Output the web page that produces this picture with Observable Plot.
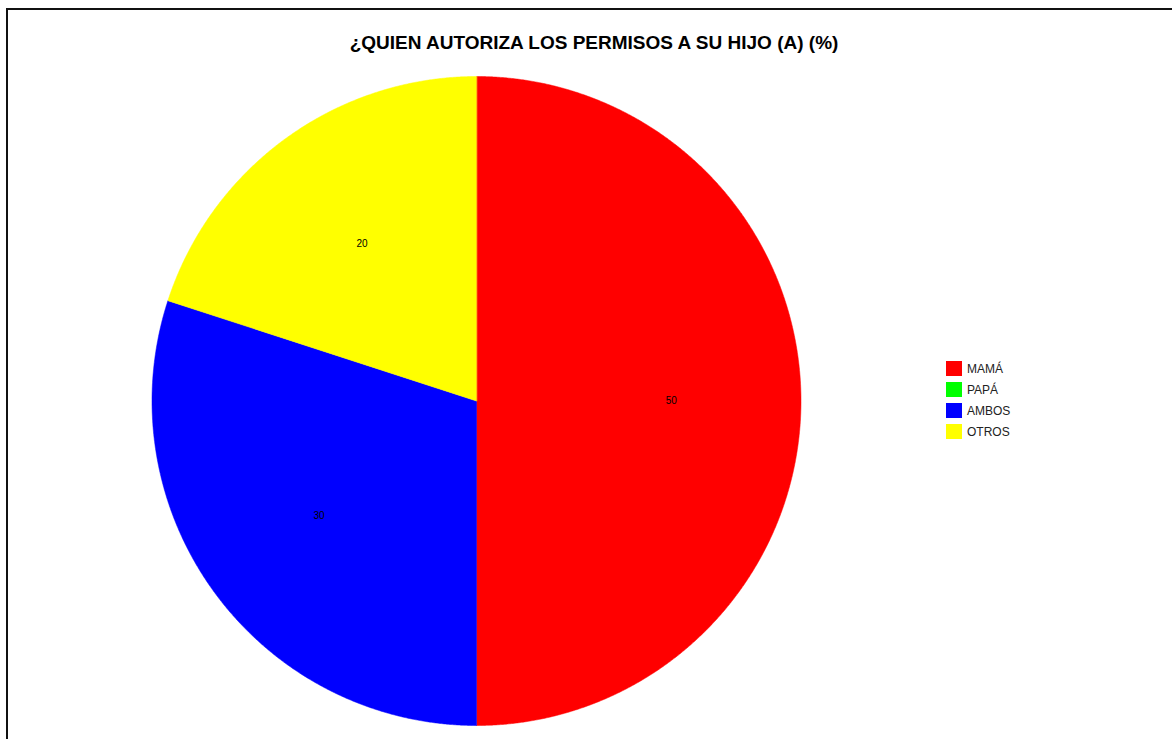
<!DOCTYPE html>
<html>
<head>
<meta charset="utf-8">
<script src="https://cdn.jsdelivr.net/npm/d3@7"></script>
<script src="https://cdn.jsdelivr.net/npm/@observablehq/plot@0.6"></script>
<style>
  html, body { margin: 0; padding: 0; background: #fff; }
  #wrap { position: relative; width: 1172px; height: 739px; overflow: hidden; font-family: Arial, "Liberation Sans", sans-serif; }
  #border { position: absolute; left: 6px; top: 8px; width: 1200px; height: 800px; border-left: 2px solid #111; border-top: 2px solid #111; box-sizing: border-box; }
  #chart { position: absolute; left: 0; top: 0; }
  #title { position: absolute; left: 0; width: 1188px; top: 32px; text-align: center; font-weight: bold; font-size: 19px; color: #000; }
  #legend { position: absolute; left: 946px; top: 358px; font-size: 12px; color: #222; }
  .row { display: flex; align-items: center; height: 21px; }
  .sw { width: 16px; height: 15px; margin-right: 5px; }
</style>
</head>
<body>
<div id="wrap">
  <div id="border"></div>
  <div id="chart"></div>
  <div id="title"></div>
  <div id="legend"></div>
</div>
<script>
const titleText = "¿QUIEN AUTORIZA LOS PERMISOS A SU HIJO (A) (%)";
const categories = ["MAMÁ", "PAPÁ", "AMBOS", "OTROS"];
const values = [50, 0, 30, 20];
const colors = ["#FF0000", "#00FF00", "#0000FF", "#FFFF00"];

const data = categories.map((c, i) => ({category: c, value: values[i]}));
const arcs = d3.pie().sort(null).value(d => d.value)(data);

// polygon vertices for each slice (unit circle, angle clockwise from top)
const pts = [];
for (const a of arcs) {
  if (a.endAngle - a.startAngle <= 0) continue;
  const cat = a.data.category;
  pts.push({category: cat, x: 0, y: 0});
  const n = Math.max(2, Math.ceil((a.endAngle - a.startAngle) / (Math.PI / 720)));
  for (let k = 0; k <= n; k++) {
    const t = a.startAngle + (a.endAngle - a.startAngle) * k / n;
    pts.push({category: cat, x: Math.sin(t), y: Math.cos(t)});
  }
}
const labels = arcs.filter(a => a.data.value > 0).map(a => {
  const m = (a.startAngle + a.endAngle) / 2;
  return {category: a.data.category, text: String(a.data.value), x: 0.6 * Math.sin(m), y: 0.6 * Math.cos(m)};
});

const cx = 476, cy = 400.5, r = 324.5;
const chart = Plot.plot({
  width: 1172,
  height: 739,
  margin: 0,
  x: {domain: [-1, 1], range: [cx - r, cx + r], axis: null},
  y: {domain: [-1, 1], range: [cy + r, cy - r], axis: null},
  color: {domain: categories, range: colors},
  marks: [
    Plot.line(pts, {x: "x", y: "y", z: "category", fill: "category", stroke: "category", strokeWidth: 0.5, curve: "linear-closed"}),
    Plot.text(labels, {x: "x", y: "y", text: "text", fill: "#000", fontSize: 10, fontFamily: "Arial, 'Liberation Sans', sans-serif"})
  ]
});
document.getElementById("chart").appendChild(chart);
document.getElementById("title").textContent = titleText;

const leg = document.getElementById("legend");
categories.forEach((c, i) => {
  const row = document.createElement("div");
  row.className = "row";
  const sw = document.createElement("div");
  sw.className = "sw";
  sw.style.background = colors[i];
  const lab = document.createElement("span");
  lab.textContent = c;
  row.appendChild(sw);
  row.appendChild(lab);
  leg.appendChild(row);
});
</script>
</body>
</html>
